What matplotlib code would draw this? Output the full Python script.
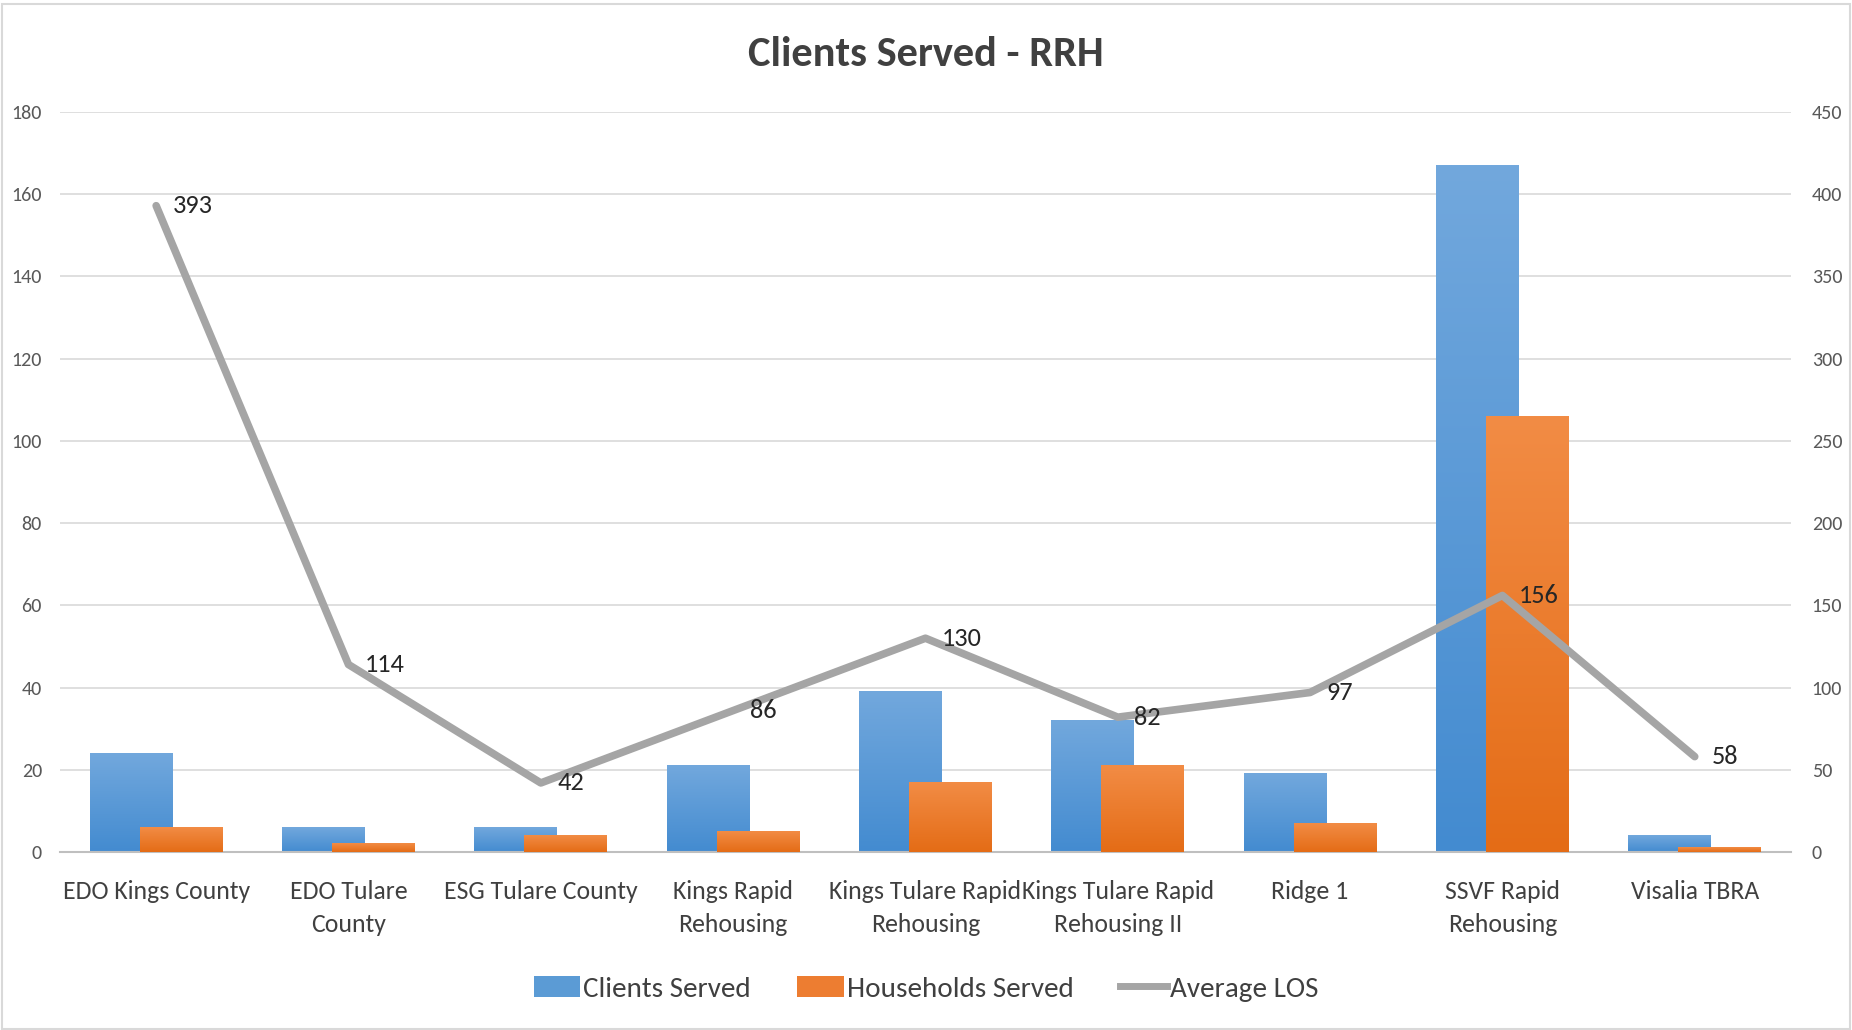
import numpy as np
import matplotlib.pyplot as plt
from matplotlib.lines import Line2D
from matplotlib.patches import Patch, Rectangle
from matplotlib.colors import LinearSegmentedColormap

categories = ["EDO Kings County", "EDO Tulare\nCounty", "ESG Tulare County",
              "Kings Rapid\nRehousing", "Kings Tulare Rapid\nRehousing",
              "Kings Tulare Rapid\nRehousing II", "Ridge 1", "SSVF Rapid\nRehousing",
              "Visalia TBRA"]
clients_served = [24, 6, 6, 21, 39, 32, 19, 167, 4]
households_served = [6, 2, 4, 5, 17, 21, 7, 106, 1]
average_los = [393, 114, 42, 86, 130, 82, 97, 156, 58]

# Carlito is metric compatible with Calibri (the Excel default)
plt.rcParams['font.family'] = ['Carlito', 'DejaVu Sans']

BLUE_TOP, BLUE_BOT = '#72a8dd', '#438bd0'
ORANGE_TOP, ORANGE_BOT = '#f28c45', '#e46c16'
LINE_GRAY = '#a5a5a5'
TEXT = '#404040'
TICK = '#595959'

fig = plt.figure(figsize=(18.52, 10.30), dpi=100)
fig.patches.append(Rectangle((0.001, 0.001), 0.998, 0.995, transform=fig.transFigure,
                             fill=False, edgecolor='#d9d9d9', linewidth=1.5))
ax = fig.add_axes([0.0324, 0.1728, 0.9346, 0.7185])

x = np.arange(len(categories))
width = 0.43
offset = 0.13


def gradient_bars(xs, heights, top, bottom, z):
    cmap = LinearSegmentedColormap.from_list('g', [bottom, top])
    grad = np.linspace(0, 1, 256).reshape(-1, 1)
    for xc, h in zip(xs, heights):
        ax.imshow(grad, extent=[xc - width / 2, xc + width / 2, 0, h], origin='lower',
                  cmap=cmap, aspect='auto', zorder=z, interpolation='bilinear')


gradient_bars(x - offset, clients_served, BLUE_TOP, BLUE_BOT, 2)
gradient_bars(x + offset, households_served, ORANGE_TOP, ORANGE_BOT, 3)

ax.set_xlim(-0.5, len(categories) - 0.5)
ax.set_ylim(0, 180)
ax.set_yticks(np.arange(0, 181, 20))
ax.grid(axis='y', color='#d9d9d9', linewidth=1.2, zorder=0)
ax.set_axisbelow(True)
for s in ['top', 'right', 'left']:
    ax.spines[s].set_visible(False)
ax.spines['bottom'].set_color('#bfbfbf')
ax.spines['bottom'].set_linewidth(1.5)
ax.set_xticks(x)
ax.set_xticklabels(categories, fontsize=18.5, color=TEXT, linespacing=1.55)
ax.tick_params(axis='x', length=0, pad=20)
ax.tick_params(axis='y', length=0, pad=13, labelsize=14.5, labelcolor=TICK)

ax2 = ax.twinx()
ax2.set_ylim(0, 450)
ax2.set_yticks(np.arange(0, 451, 50))
ax2.tick_params(axis='y', length=0, pad=15, labelsize=14.5, labelcolor=TICK)
for s in ax2.spines.values():
    s.set_visible(False)
ax2.plot(x, average_los, color=LINE_GRAY, linewidth=5.5, solid_joinstyle='round',
         solid_capstyle='round', zorder=5)
for xi, v in zip(x, average_los):
    ax2.annotate(str(v), (xi, v), xytext=(12, 0), textcoords='offset points',
                 ha='left', va='center', fontsize=19, color='#262626', zorder=6)

fig.text(0.5, 0.947, "Clients Served - RRH", ha='center', va='center',
         fontsize=30.5, fontweight='bold', color=TEXT)

handles = [Patch(facecolor='#5b9bd5', edgecolor='none'),
           Patch(facecolor='#ed7d31', edgecolor='none'),
           Line2D([0], [0], color=LINE_GRAY, linewidth=5)]
fig.legend(handles, ["Clients Served", "Households Served", "Average LOS"],
           loc='center', bbox_to_anchor=(0.5, 0.04), ncol=3, frameon=False,
           fontsize=21, handlelength=1.6, handleheight=0.7, handletextpad=0.1,
           columnspacing=1.6, labelcolor=TEXT)

fig.savefig('out.png', dpi=100)
